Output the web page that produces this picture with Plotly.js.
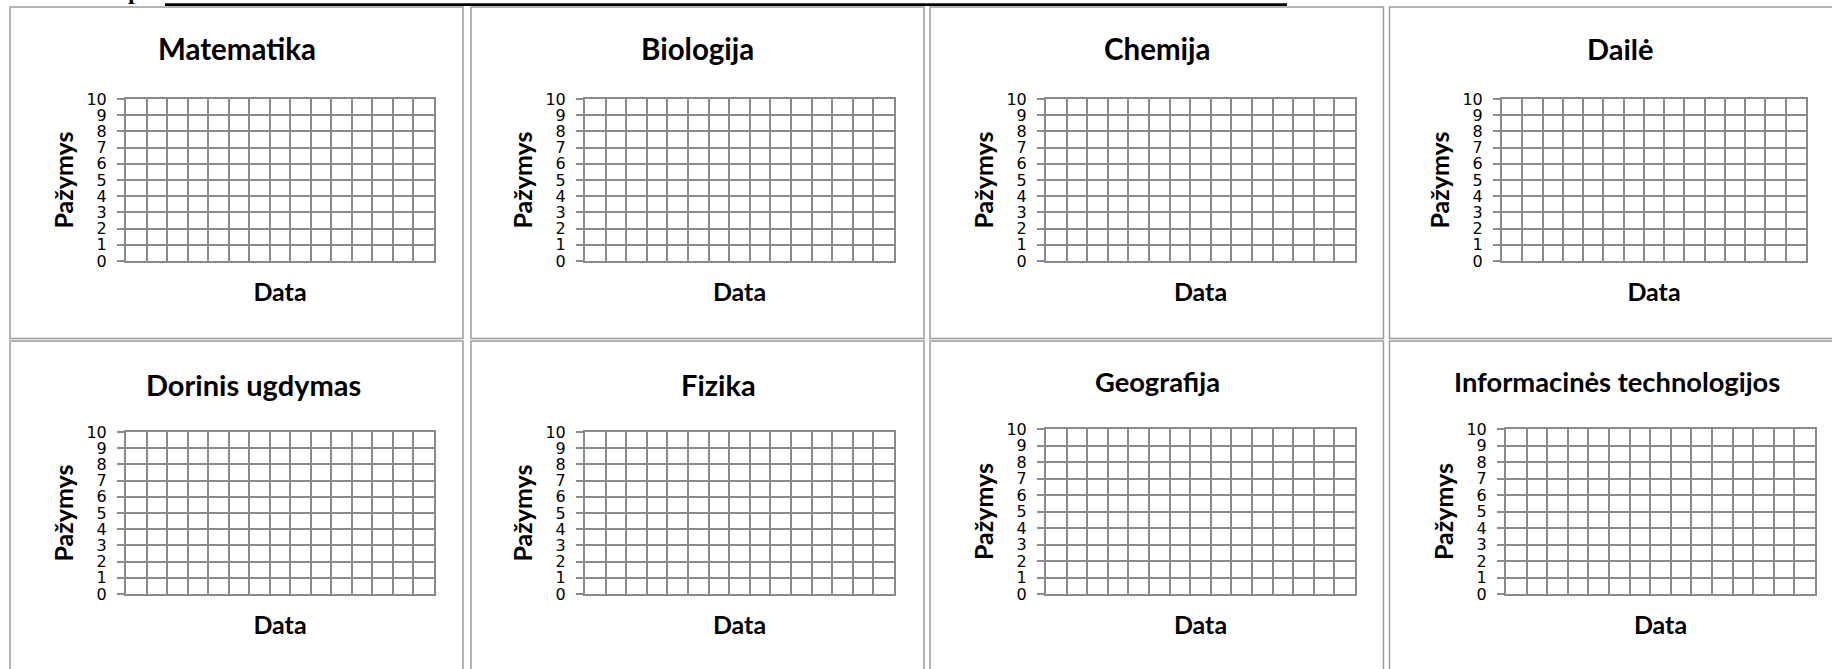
<!DOCTYPE html>
<html>
<head>
<meta charset="utf-8">
<script src="https://cdn.plot.ly/plotly-3.0.1.min.js"></script>
<style>
  html, body { margin: 0; padding: 0; background: #ffffff; }
  #chart { width: 1832px; height: 669px; }
</style>
</head>
<body>
<div id="chart"></div>
<script>
// ---- chart content ----
const subjects = [
  'Matematika', 'Biologija', 'Chemija', 'Dailė',
  'Dorinis ugdymas', 'Fizika', 'Geografija', 'Informacinės technologijos'
];
const yAxisTitle = 'Pažymys';
const xAxisTitle = 'Data';
const gradeTicks = [0, 1, 2, 3, 4, 5, 6, 7, 8, 9, 10];
const gradeTickLabels = ['0', '1', '2', '3', '4', '5', '6', '7', '8', '9', '10'];
const dateColumnCount = 15;          // empty date columns in each grid
const gradeDates = [];               // no dates filled in yet
const gradeValues = [];              // no grades filled in yet
const headerFragment = 'p';

// ---- layout geometry (pixels) ----
const W = 1832, H = 669;
const px = v => v / W;
const py = v => 1 - v / H;

// plot boxes [x0, x1, y0(top), y1(bottom)]
const boxes = [
  [126, 434, 99, 261], [585, 894, 99, 261], [1046, 1355, 99, 261], [1502, 1806, 99, 261],
  [126, 434, 432, 594], [585, 894, 432, 594], [1046, 1355, 429, 594], [1506, 1815, 429, 594]
];
// title centres [x, y, fontSize]
const titlePos = [
  [237, 49, 29.5], [697, 49, 29.5], [1157, 49, 29.5], [1620, 49, 29],
  [254, 384.5, 29], [718, 384.5, 29], [1157, 382, 27.3], [1617, 382, 27.3]
];

const gridColor = '#8a8a8a';
const borderColor = '#9c9c9c';
const FONT = 'Lato, "Open Sans", sans-serif';
const TICKFONT = '"DejaVu Sans", sans-serif';

const data = [];
const layout = {
  width: W, height: H,
  margin: {l: 0, r: 0, t: 0, b: 0},
  paper_bgcolor: '#ffffff',
  plot_bgcolor: '#ffffff',
  showlegend: false,
  font: {family: FONT, color: '#000000'},
  annotations: [],
  shapes: []
};

subjects.forEach((name, i) => {
  const n = i + 1;
  const b = boxes[i];
  data.push({
    type: 'scatter', mode: 'lines+markers',
    x: gradeDates, y: gradeValues,
    xaxis: 'x' + n, yaxis: 'y' + n,
    line: {color: '#4f81bd', width: 2},
    hoverinfo: 'skip'
  });
  layout['xaxis' + n] = {
    domain: [px(b[0]), px(b[1])],
    anchor: 'y' + n,
    range: [0, dateColumnCount],
    dtick: 1, tick0: 0,
    showgrid: true, gridcolor: gridColor, gridwidth: 2,
    showline: true, linecolor: gridColor, linewidth: 2, mirror: true,
    zeroline: false,
    ticks: '', showticklabels: false,
    fixedrange: true,
    title: {text: xAxisTitle, font: {family: FONT, size: 25, color: '#000000', weight: 'bold'}, standoff: 21}
  };
  layout['yaxis' + n] = {
    domain: [py(b[3]), py(b[2])],
    anchor: 'x' + n,
    range: [0, 10],
    tickmode: 'array', tickvals: gradeTicks, ticktext: gradeTickLabels,
    showgrid: true, gridcolor: gridColor, gridwidth: 2,
    showline: true, linecolor: gridColor, linewidth: 2, mirror: true,
    zeroline: false,
    ticks: 'outside', ticklen: 7, tickcolor: gridColor, tickwidth: 2,
    ticklabelstandoff: 7,
    tickfont: {family: TICKFONT, size: 16, color: '#000000'},
    fixedrange: true,
    title: {text: yAxisTitle, font: {family: FONT, size: 25, color: '#000000', weight: 'bold'}, standoff: 6}
  };
  const t = titlePos[i];
  layout.annotations.push({
    xref: 'paper', yref: 'paper',
    x: px(t[0]), y: py(t[1]),
    xanchor: 'center', yanchor: 'middle',
    text: name, showarrow: false,
    font: {family: FONT, size: t[2], color: '#000000', weight: 'bold'}
  });
});

// header fragment (cut off at the top of the page, as in the original)
layout.annotations.push({
  xref: 'paper', yref: 'paper',
  x: px(126), y: py(6),
  xanchor: 'left', yanchor: 'bottom',
  text: headerFragment, showarrow: false,
  font: {family: '"Liberation Serif", serif', size: 24, color: '#000000', weight: 'bold'}
});

// table cell borders (double lines between cells)
const colEdges = [[10, 463], [471, 924], [930, 1383.5], [1389.5, 1845]];
const rowEdges = [[7, 338.5], [341, 680]];
rowEdges.forEach(r => colEdges.forEach(c => {
  layout.shapes.push({
    type: 'rect', xref: 'paper', yref: 'paper',
    x0: px(c[0]), x1: px(c[1]), y0: py(r[1]), y1: py(r[0]),
    line: {color: borderColor, width: 1.5}, fillcolor: 'rgba(0,0,0,0)',
    layer: 'below'
  });
}));
// black underline of the header line
layout.shapes.push({
  type: 'line', xref: 'paper', yref: 'paper',
  x0: px(165), x1: px(1287), y0: py(4.6), y1: py(4.6),
  line: {color: '#000000', width: 2.7}
});

Plotly.newPlot('chart', data, layout, {displayModeBar: false, staticPlot: true});
</script>
</body>
</html>
